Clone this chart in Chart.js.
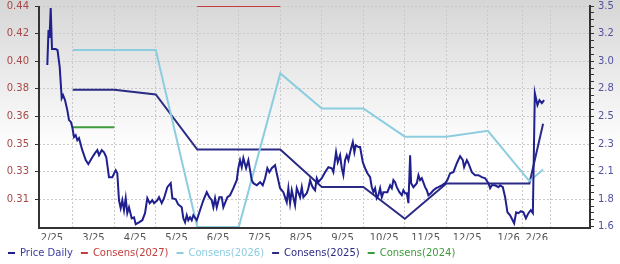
<!DOCTYPE html>
<html lang="en">
<head>
<meta charset="UTF-8">
<title>Price and Consensus</title>
<script src="https://cdn.jsdelivr.net/npm/chart.js"></script>
<style>
  body { margin: 0; background: #fff; }
  #wrap { width: 620px; height: 264px; }
</style>
</head>
<body>
<div id="wrap"><canvas id="chart" width="620" height="264"></canvas></div>
<script>
// x = months since 1 Feb 2025 (1 = start of Mar 2025, 12 = start of Feb 2026)
const monthLabels = ['2/25', '3/25', '4/25', '5/25', '6/25', '7/25', '8/25', '9/25', '10/25', '11/25', '12/25', '1/26', '2/26'];

// tick values of the two value axes (labels are these rounded)
const priceTicks = [0.44, 0.4212, 0.4024, 0.3836, 0.3648, 0.346, 0.3272, 0.3084];
const epsTicks = [3.475, 3.2395, 3.004, 2.7685, 2.533, 2.2975, 2.062, 1.8265];

const priceT = [0.387, 0.416, 0.440, 0.469, 0.500, 0.589, 0.633, 0.686, 0.734, 0.765, 0.813, 0.869, 0.910, 0.958, 0.989,
  1.030, 1.071, 1.110, 1.151, 1.230, 1.312, 1.375, 1.471, 1.536, 1.592, 1.633, 1.698, 1.753, 1.808, 1.873, 1.953,
  2.035, 2.073, 2.114, 2.155, 2.194, 2.235, 2.276, 2.314, 2.355, 2.420, 2.476, 2.517, 2.596, 2.676, 2.741, 2.796, 2.854, 2.917, 2.958,
  3.037, 3.078, 3.143, 3.199, 3.278, 3.360, 3.399, 3.481, 3.536, 3.625, 3.664, 3.705, 3.746, 3.784, 3.825, 3.866, 3.905, 3.987,
  4.066, 4.146, 4.228, 4.290, 4.348, 4.387, 4.428, 4.469, 4.531, 4.589, 4.628, 4.724, 4.789, 4.869, 4.951, 4.989,
  5.030, 5.071, 5.110, 5.175, 5.230, 5.271, 5.312, 5.351, 5.433, 5.512, 5.577, 5.633, 5.688, 5.736, 5.794, 5.873, 5.914, 5.994,
  6.073, 6.155, 6.194, 6.235, 6.276, 6.355, 6.396, 6.476, 6.517, 6.555, 6.637, 6.676, 6.717, 6.758, 6.796, 6.837, 6.878, 6.917, 6.999,
  7.078, 7.158, 7.240, 7.278, 7.343, 7.384, 7.440, 7.481, 7.519, 7.560, 7.601, 7.640, 7.681, 7.746, 7.784, 7.818, 7.881, 7.922, 7.987,
  8.042, 8.098, 8.163, 8.204, 8.242, 8.283, 8.324, 8.363, 8.404, 8.445, 8.483, 8.580, 8.645, 8.686, 8.724, 8.765, 8.806, 8.869, 8.927, 8.965,
  9.006, 9.047, 9.086, 9.127, 9.151, 9.206, 9.288, 9.327, 9.367, 9.408, 9.488, 9.529, 9.567, 9.625, 9.688, 9.753, 9.808, 9.890, 9.970,
  10.025, 10.090, 10.170, 10.252, 10.331, 10.396, 10.428, 10.493, 10.531, 10.613, 10.693, 10.772, 10.854, 10.934,
  11.013, 11.054, 11.095, 11.175, 11.254, 11.295, 11.360, 11.416, 11.471, 11.536, 11.633, 11.681, 11.736, 11.794, 11.857, 11.916, 11.977,
  12.035, 12.084, 12.131, 12.194, 12.242, 12.300, 12.355];
const priceV = [0.3998, 0.4236, 0.4182, 0.4386, 0.4107, 0.4107, 0.4100, 0.3984, 0.3773, 0.3793, 0.3759, 0.3691, 0.3623, 0.3609, 0.3575,
  0.3507, 0.3520, 0.3486, 0.3500, 0.3418, 0.3350, 0.3323, 0.3370, 0.3398, 0.3418, 0.3384, 0.3418, 0.3404, 0.3370, 0.3234, 0.3234,
  0.3282, 0.3261, 0.3077, 0.3023, 0.3077, 0.3009, 0.3091, 0.2989, 0.3029, 0.2954, 0.2961, 0.2914, 0.2927, 0.2941, 0.2989, 0.3091, 0.3057, 0.3077, 0.3057,
  0.3077, 0.3098, 0.3057, 0.3091, 0.3166, 0.3193, 0.3091, 0.3084, 0.3050, 0.3029, 0.2954, 0.2927, 0.2975, 0.2941, 0.2961, 0.2941, 0.2975, 0.2941,
  0.3009, 0.3077, 0.3132, 0.3098, 0.3077, 0.3029, 0.3091, 0.3029, 0.3098, 0.3098, 0.3029, 0.3098, 0.3111, 0.3159, 0.3214, 0.3295,
  0.3350, 0.3302, 0.3364, 0.3295, 0.3350, 0.3282, 0.3214, 0.3193, 0.3179, 0.3200, 0.3179, 0.3227, 0.3295, 0.3268, 0.3295, 0.3316, 0.3261, 0.3159,
  0.3132, 0.3064, 0.3159, 0.3057, 0.3145, 0.3043, 0.3159, 0.3098, 0.3166, 0.3098, 0.3125, 0.3159, 0.3214, 0.3179, 0.3159, 0.3145, 0.3227, 0.3200, 0.3227,
  0.3268, 0.3302, 0.3295, 0.3268, 0.3404, 0.3336, 0.3384, 0.3295, 0.3248, 0.3350, 0.3384, 0.3350, 0.3404, 0.3473, 0.3404, 0.3452, 0.3439, 0.3439, 0.3336,
  0.3295, 0.3261, 0.3234, 0.3166, 0.3132, 0.3159, 0.3091, 0.3111, 0.3159, 0.3098, 0.3132, 0.3132, 0.3179, 0.3159, 0.3214, 0.3200, 0.3166, 0.3132, 0.3111, 0.3145,
  0.3125, 0.3125, 0.3057, 0.3384, 0.3193, 0.3166, 0.3193, 0.3248, 0.3214, 0.3227, 0.3166, 0.3145, 0.3111, 0.3125, 0.3145, 0.3159, 0.3166, 0.3179, 0.3193,
  0.3214, 0.3261, 0.3268, 0.3329, 0.3377, 0.3350, 0.3302, 0.3350, 0.3329, 0.3268, 0.3248, 0.3248, 0.3234, 0.3227,
  0.3193, 0.3159, 0.3179, 0.3179, 0.3166, 0.3179, 0.3166, 0.3098, 0.2995, 0.2975, 0.2920, 0.2995, 0.2989, 0.3002, 0.2995, 0.2954, 0.2989,
  0.3009, 0.2989, 0.3807, 0.3725, 0.3759, 0.3739, 0.3759];

const cons2027T = [4, 6];
const cons2027V = [3.475, 3.475];
const cons2026T = [1, 3, 4, 5, 6, 7, 8, 9, 10, 11, 12, 12.33];
const cons2026V = [3.10, 3.10, 1.59, 1.59, 2.90, 2.60, 2.60, 2.36, 2.36, 2.41, 1.98, 2.08];
const cons2025T = [1, 2, 3, 4, 6, 7, 8, 9, 10, 12, 12.33];
const cons2025V = [2.76, 2.76, 2.72, 2.25, 2.25, 1.93, 1.93, 1.66, 1.96, 1.96, 2.47];
const cons2024T = [1, 2];
const cons2024V = [2.44, 2.44];

const pts = (t, v) => t.map((x, i) => ({ x: x, y: v[i] }));

// month labels sit mid-month; the running month is centred on its elapsed part
const lastT = priceT[priceT.length - 1];
const labelAt = i => (i < monthLabels.length - 1 ? i + 0.5 : (i + lastT) / 2);

const bgPlugin = {
  id: 'bg',
  beforeDraw(chart) {
    const ctx = chart.ctx;
    const g = ctx.createLinearGradient(0, 0, 0, 150);
    g.addColorStop(0, '#d6d6d6');
    g.addColorStop(1, '#ffffff');
    ctx.save();
    ctx.fillStyle = g;
    ctx.fillRect(0, 0, chart.width, chart.height);
    ctx.restore();
  }
};

// solid left and bottom axis lines (scale borders are switched off so the grid can stay dotted)
const axisLines = {
  id: 'axisLines',
  afterDraw(chart) {
    const { ctx, chartArea: a } = chart;
    ctx.save();
    ctx.strokeStyle = '#333333';
    ctx.lineWidth = 2;
    ctx.beginPath();
    ctx.moveTo(a.left, a.top);
    ctx.lineTo(a.left, a.bottom);
    ctx.lineTo(a.right, a.bottom);
    ctx.stroke();
    ctx.restore();
  }
};

Chart.defaults.font.family = "'DejaVu Sans', Verdana, sans-serif";
Chart.defaults.font.size = 10;

function line(label, data, color, axis) {
  return {
    label: label,
    data: data,
    yAxisID: axis,
    borderColor: color,
    backgroundColor: color,
    borderWidth: 2,
    pointRadius: 0,
    tension: 0,
    fill: false
  };
}

// fixed axis widths, and no extra room reserved above/below the value axes
const fitSide = w => s => { s.width = w; s.paddingTop = 0; s.paddingBottom = 0; };

new Chart(document.getElementById('chart'), {
  type: 'line',
  data: {
    datasets: [
      line('Price Daily', pts(priceT, priceV), '#1f1f8f', 'y'),
      line('Consens(2027)', pts(cons2027T, cons2027V), '#c43c3c', 'y1'),
      line('Consens(2026)', pts(cons2026T, cons2026V), '#8dcde0', 'y1'),
      line('Consens(2025)', pts(cons2025T, cons2025V), '#2b2b86', 'y1'),
      line('Consens(2024)', pts(cons2024T, cons2024V), '#3c9c3c', 'y1')
    ]
  },
  options: {
    responsive: false,
    animation: false,
    layout: { padding: { top: 6, left: 0, right: 0, bottom: 0 } },
    plugins: {
      tooltip: { enabled: false },
      legend: {
        position: 'bottom',
        align: 'start',
        maxHeight: 24,
        labels: {
          boxWidth: 7,
          boxHeight: 2,
          padding: 8,
          font: { size: 10 },
          generateLabels: chart => chart.data.datasets.map((ds, i) => ({
            text: ds.label,
            fillStyle: ds.borderColor,
            strokeStyle: ds.borderColor,
            lineWidth: 0,
            fontColor: i === 0 ? '#3a3aa8' : ds.borderColor,
            hidden: false,
            datasetIndex: i
          }))
        }
      }
    },
    scales: {
      x: {
        type: 'linear',
        min: 0.187,
        max: 13.46,
        afterBuildTicks: s => { s.ticks = monthLabels.map((l, i) => ({ value: labelAt(i) })); },
        afterFit: s => { s.height = 12; },
        ticks: {
          autoSkip: false,
          maxRotation: 0,
          padding: 4,
          color: '#555555',
          callback: (v, i) => monthLabels[i]
        },
        grid: { offset: true, color: '#c9c9c9', drawTicks: false },
        border: { display: false, dash: [2, 2] }
      },
      y: {
        position: 'left',
        min: 0.2888,
        max: 0.44,
        afterBuildTicks: s => { s.ticks = priceTicks.map(v => ({ value: v })); },
        afterFit: fitSide(39),
        ticks: {
          autoSkip: false,
          padding: 6,
          color: '#a84848',
          callback: v => v.toFixed(2)
        },
        grid: { color: '#c9c9c9', tickLength: 4, tickColor: '#333333' },
        border: { display: false, dash: [2, 2] }
      },
      y1: {
        position: 'right',
        min: 1.5804,
        max: 3.475,
        afterBuildTicks: s => {
          const step = (epsTicks[0] - epsTicks[1]) / 4;
          const out = [];
          for (let k = 0; epsTicks[0] - k * step >= s.min - 1e-9; k++) out.push({ value: epsTicks[0] - k * step });
          s.ticks = out;
        },
        afterFit: fitSide(30),
        ticks: {
          autoSkip: false,
          padding: 4,
          color: '#5252a0',
          callback: (v, i) => (i % 4 === 0 ? v.toFixed(1) : '')
        },
        grid: { drawOnChartArea: false, tickLength: 4, tickColor: '#333333' },
        border: { color: '#333333', width: 2 }
      }
    }
  },
  plugins: [bgPlugin, axisLines]
});
</script>
</body>
</html>
